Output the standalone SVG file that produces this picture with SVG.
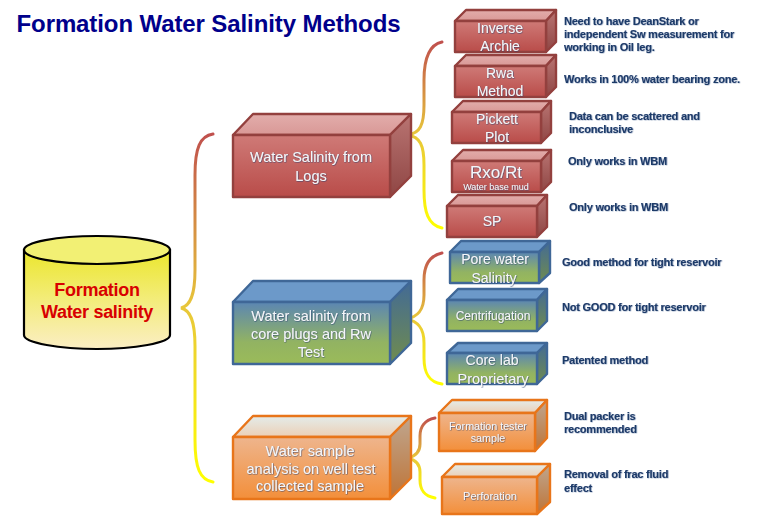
<svg xmlns="http://www.w3.org/2000/svg" width="768" height="516" viewBox="0 0 768 516">
<style>
text{font-family:"Liberation Sans",Arial,sans-serif;text-anchor:middle}
.t{fill:#f4f6fa;filter:url(#sh)}
.n{fill:#1f3a68;font-weight:bold;font-size:11px;text-anchor:start;letter-spacing:-.22px;filter:url(#ns)}
.box path,.box rect{stroke-width:2.4;stroke-linejoin:round}
.red rect{fill:url(#rf);stroke:#93403e}.red .a{fill:url(#rt);stroke:#93403e}.red .b{fill:url(#rs);stroke:#93403e}
.blu rect{fill:url(#bf);stroke:#3f6797}.blu .a{fill:#6c99c9;stroke:#3f6797}.blu .b{fill:url(#bs);stroke:#3f6797}
.org rect{fill:url(#of);stroke:#e8751a}.org .a{fill:url(#ot);stroke:#e8751a}.org .b{fill:url(#os);stroke:#e8751a}
.br{fill:none;stroke-width:3;stroke-linecap:round}
</style>
<defs>
<filter id="sh" x="-10%" y="-20%" width="120%" height="140%"><feDropShadow dx=".5" dy=".5" stdDeviation=".5" flood-color="#2b3f70" flood-opacity=".9"/></filter>
<filter id="ns" x="-5%" y="-20%" width="110%" height="140%"><feDropShadow dx=".6" dy=".3" stdDeviation=".3" flood-color="#3f5f8f" flood-opacity=".8"/></filter>
<linearGradient id="rf" x1="0" y1="0" x2="0" y2="1"><stop offset="0" stop-color="#cf7a77"/><stop offset="1" stop-color="#b94c49"/></linearGradient>
<linearGradient id="rt" x1="0" y1="0" x2="0" y2="1"><stop offset="0" stop-color="#e2adab"/><stop offset="1" stop-color="#d99896"/></linearGradient>
<linearGradient id="rs" x1="0" y1="0" x2="0" y2="1"><stop offset="0" stop-color="#b97472"/><stop offset="1" stop-color="#8f4644"/></linearGradient>
<linearGradient id="bf" x1="0" y1="0" x2="0" y2="1"><stop offset="0" stop-color="#5b86b3"/><stop offset=".65" stop-color="#92b362"/><stop offset="1" stop-color="#9bbb59"/></linearGradient>
<linearGradient id="bs" x1="0" y1="0" x2="0" y2="1"><stop offset="0" stop-color="#426a96"/><stop offset="1" stop-color="#708c4e"/></linearGradient>
<linearGradient id="of" x1="0" y1="0" x2="0" y2="1"><stop offset="0" stop-color="#eeb58d"/><stop offset="1" stop-color="#f38f3a"/></linearGradient>
<linearGradient id="ot" x1="0" y1="0" x2="0" y2="1"><stop offset="0" stop-color="#e4ecea"/><stop offset="1" stop-color="#eccfb5"/></linearGradient>
<linearGradient id="os" x1="0" y1="0" x2="0" y2="1"><stop offset="0" stop-color="#bfa68f"/><stop offset="1" stop-color="#bf7436"/></linearGradient>
<linearGradient id="cy" x1="0" y1="0" x2="0" y2="1"><stop offset="0" stop-color="#ebe62c"/><stop offset=".5" stop-color="#f3ec7a"/><stop offset="1" stop-color="#fbeec4"/></linearGradient>
<linearGradient id="g0" gradientUnits="userSpaceOnUse" x1="0" y1="134" x2="0" y2="482"><stop offset="0" stop-color="#c0504d"/><stop offset=".5" stop-color="#e8c73a"/><stop offset="1" stop-color="#ffff00"/></linearGradient>
<linearGradient id="g1" gradientUnits="userSpaceOnUse" x1="0" y1="42" x2="0" y2="228"><stop offset="0" stop-color="#c0504d"/><stop offset=".5" stop-color="#e8c73a"/><stop offset="1" stop-color="#ffff00"/></linearGradient>
<linearGradient id="g2" gradientUnits="userSpaceOnUse" x1="0" y1="253" x2="0" y2="384"><stop offset="0" stop-color="#c0504d"/><stop offset=".5" stop-color="#e8c73a"/><stop offset="1" stop-color="#ffff00"/></linearGradient>
<linearGradient id="g3" gradientUnits="userSpaceOnUse" x1="0" y1="418" x2="0" y2="498"><stop offset="0" stop-color="#c0504d"/><stop offset=".5" stop-color="#e8c73a"/><stop offset="1" stop-color="#ffff00"/></linearGradient>
</defs>
<rect width="768" height="516" fill="#fff"/>
<text id="title" x="208.500" y="32" font-size="24" font-weight="bold" fill="#00008b" style="letter-spacing:-.1px">Formation Water Salinity Methods</text>
<g id="connectors">
<path class="br" stroke="url(#g0)" d="M213 134C200 136 195 148 195 175V270C195 296 190 306 181 308C190 310 195 320 195 346V440C195 468 200 480 213 482"/>
<path class="br" stroke="url(#g1)" d="M442 42C428 45 424 60 424 80V105C424 125 420 133 408 135C420 137 424 145 424 165V190C424 212 428 225 442 228"/>
<path class="br" stroke="url(#g2)" d="M442 253C428 256 424 268 424 280V295C424 310 418 317 406 319C418 321 424 328 424 343V358C424 372 428 382 442 384"/>
<path class="br" stroke="url(#g3)" d="M435 418C424 420 420 428 420 436V444C420 452 416 456 408 458C416 460 420 464 420 472V480C420 490 424 496 435 498"/>
</g>
<g id="root">
<path d="M24 250V335C24 343 60 349 97 349C134 349 170 343 170 335V250Z" fill="url(#cy)" stroke="#000" stroke-width="2.200"/>
<ellipse cx="97" cy="250" rx="73" ry="14" fill="#f2f074" stroke="#000" stroke-width="2.200"/>
<text x="97" y="296" font-size="18" font-weight="bold" fill="#d80000" style="letter-spacing:-.3px">Formation</text>
<text x="97" y="318" font-size="18" font-weight="bold" fill="#d80000" style="letter-spacing:-.3px">Water salinity</text>
</g>
<g id="n-logs" class="box red"><path class="a" d="M233 135L253 114H411L390 135Z"/><path class="b" d="M390 135L411 114V176L390 197Z"/><rect x="233" y="135" width="157" height="62"/><text class="t" x="311" y="162" font-size="14.500">Water Salinity  from</text><text class="t" x="311" y="181" font-size="14.500">Logs</text></g>
<g id="n-core" class="box blu"><path class="a" d="M233 302L253 281H411L390 302Z"/><path class="b" d="M390 302L411 281V343L390 364Z"/><rect x="233" y="302" width="157" height="62"/><text class="t" x="311" y="321" font-size="14.500">Water salinity  from</text><text class="t" x="311" y="339" font-size="14.500">core plugs and Rw</text><text class="t" x="311" y="357" font-size="14.500">Test</text></g>
<g id="n-sample" class="box org"><path class="a" d="M233 437L253 416H411L390 437Z"/><path class="b" d="M390 437L411 416V478L390 499Z"/><rect x="233" y="437" width="157" height="62"/><text class="t" x="310" y="456" font-size="14.500">Water sample</text><text class="t" x="311" y="474" font-size="14.500">analysis on well test</text><text class="t" x="310" y="491" font-size="14.500">collected sample</text></g>
<g id="n-inverse" class="box red"><path class="a" d="M455 21L466 10H556L546 21Z"/><path class="b" d="M546 21L556 10V42L546 52Z"/><rect x="455" y="21" width="91" height="31"/><text class="t" x="500" y="33" font-size="14">Inverse</text><text class="t" x="500" y="51" font-size="14">Archie</text></g>
<g id="n-rwa" class="box red"><path class="a" d="M455 66L466 55H556L546 66Z"/><path class="b" d="M546 66L556 55V87L546 97Z"/><rect x="455" y="66" width="91" height="31"/><text class="t" x="500" y="78" font-size="14">Rwa</text><text class="t" x="500" y="96" font-size="14">Method</text></g>
<g id="n-pickett" class="box red"><path class="a" d="M452 112L463 101H551L541 112Z"/><path class="b" d="M541 112L551 101V133L541 143Z"/><rect x="452" y="112" width="89" height="31"/><text class="t" x="497" y="124" font-size="14">Pickett</text><text class="t" x="497" y="142" font-size="14">Plot</text></g>
<g id="n-rxo" class="box red"><path class="a" d="M452 161L463 150H551L541 161Z"/><path class="b" d="M541 161L551 150V182L541 192Z"/><rect x="452" y="161" width="89" height="31"/><text class="t" x="496" y="178" font-size="17">Rxo/Rt</text><text class="t" x="496" y="190" font-size="9">Water base mud</text></g>
<g id="n-sp" class="box red"><path class="a" d="M447 206L458 195H547L537 206Z"/><path class="b" d="M537 206L547 195V227L537 237Z"/><rect x="447" y="206" width="90" height="31"/><text class="t" x="492" y="226" font-size="14">SP</text></g>
<g id="n-pore" class="box blu"><path class="a" d="M450 252L461 241H550L539 252Z"/><path class="b" d="M539 252L550 241V273L539 283Z"/><rect x="450" y="252" width="89" height="31"/><text class="t" x="495" y="264" font-size="14">Pore water</text><text class="t" x="494" y="283" font-size="14">Salinity</text></g>
<g id="n-cent" class="box blu"><path class="a" d="M447 300L458 289H547L537 300Z"/><path class="b" d="M537 300L547 289V321L537 331Z"/><rect x="447" y="300" width="90" height="31"/><text class="t" x="493" y="320" font-size="12">Centrifugation</text></g>
<g id="n-corelab" class="box blu"><path class="a" d="M447 353L458 343H547L537 353Z"/><path class="b" d="M537 353L547 343V374L537 384Z"/><rect x="447" y="353" width="90" height="31"/><text class="t" x="492" y="365" font-size="14">Core lab</text><text class="t" x="493" y="384" font-size="14.500">Proprietary</text></g>
<g id="n-tester" class="box org"><path class="a" d="M439 413L452 400H547L535 413Z"/><path class="b" d="M535 413L547 400V438L535 451Z"/><rect x="439" y="413" width="96" height="38"/><text class="t" x="488" y="430" font-size="10.700">Formation tester</text><text class="t" x="488" y="442" font-size="10.700">sample</text></g>
<g id="n-perf" class="box org"><path class="a" d="M442 477L455 464H550L537 477Z"/><path class="b" d="M537 477L550 464V502L537 514Z"/><rect x="442" y="477" width="95" height="37"/><text class="t" x="490" y="500" font-size="11">Perforation</text></g>
<g id="notes">
<text class="n" x="564" y="25">Need to have DeanStark or</text><text class="n" x="564" y="38">independent Sw measurement for</text><text class="n" x="564" y="51">working in Oil leg.</text>
<text class="n" x="564" y="83">Works in 100% water bearing zone.</text>
<text class="n" x="569" y="120">Data can be  scattered and</text><text class="n" x="569" y="133">inconclusive</text>
<text class="n" x="568" y="165">Only works in WBM</text>
<text class="n" x="569" y="211">Only works in WBM</text>
<text class="n" x="562" y="266">Good method for tight reservoir</text>
<text class="n" x="562" y="311">Not GOOD for tight reservoir</text>
<text class="n" x="562" y="364">Patented method</text>
<text class="n" x="564" y="420">Dual packer is</text><text class="n" x="564" y="433">recommended</text>
<text class="n" x="564" y="478">Removal of frac fluid</text><text class="n" x="564" y="492">effect</text>
</g>
</svg>
